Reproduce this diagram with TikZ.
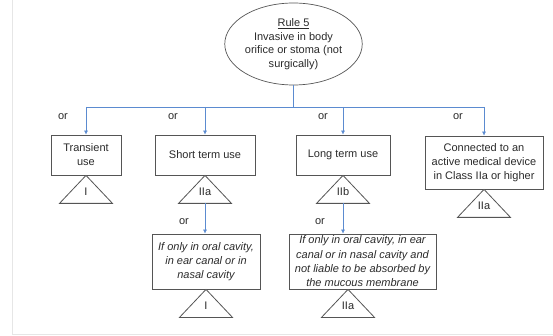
\documentclass[tikz,border=0pt]{standalone}
\usepackage{fontspec}
\setmainfont{Liberation Sans}
\usetikzlibrary{shapes.geometric,arrows.meta,calc}
\definecolor{linkblue}{HTML}{5B8BD0}
\definecolor{boxgray}{HTML}{555555}
\definecolor{txtgray}{HTML}{2A2A2A}
\definecolor{framegray}{HTML}{E6E6E6}
\tikzset{
  every node/.style={text=txtgray, font=\fontsize{11}{13.5}\selectfont},
  rulebox/.style={draw=boxgray, line width=0.7pt, ellipse, minimum width=103pt,
    minimum height=82pt, inner sep=0pt, align=center},
  usebox/.style={draw=boxgray, line width=0.8pt, rectangle, inner sep=0pt, align=center,
    font=\fontsize{11}{14}\selectfont},
  condbox/.style={usebox, font=\fontsize{11}{14.3}\selectfont\itshape},
  link/.style={draw=linkblue, line width=0.6pt},
  linkarrow/.style={link, -{Latex[length=4pt,width=4pt]}},
  classtri/.style={draw=boxgray, line width=0.8pt, fill=white},
  classlabel/.style={inner sep=0pt},
  orlabel/.style={inner sep=0pt},
}
\begin{document}
\begin{tikzpicture}[x=1pt, y=-1pt]
  \useasboundingbox (0,0) rectangle (553,336);
  % thin page frame on the left and bottom
  \draw[framegray, line width=0.8pt] (12.5,0) -- (12.5,334.5) -- (553,334.5);

  % the rule
  \node[rulebox] (rule) at (293.5,44) {\underline{Rule 5}\\Invasive in body\\orifice or stoma (not\\surgically)};

  % duration / connection boxes
  \node[usebox, minimum width=70pt, minimum height=40pt] (trans) at (86,155) {Transient\\use};
  \node[usebox, minimum width=100pt, minimum height=40pt] (short) at (205,155) {Short term use};
  \node[usebox, minimum width=94pt, minimum height=40pt] (long) at (343,155) {Long term use};
  \node[usebox, minimum width=118pt, minimum height=53pt] (active) at (484,162.5) {Connected to an\\active medical device\\in Class IIa or higher};

  % special-case boxes
  \node[condbox, minimum width=108pt, minimum height=55pt] (shortcav) at (206,261.5) {If only in oral cavity,\\in ear canal or in\\nasal cavity};
  \node[condbox, minimum width=147pt, minimum height=55pt] (longcav) at (362.5,261.5) {If only in oral cavity, in ear\\canal or in nasal cavity and\\not liable to be absorbed by\\the mucous membrane};

  % class triangles hanging under the boxes
  \coordinate (ctrans) at (trans.south);
  \coordinate (cshort) at (short.south);
  \coordinate (clong) at (long.south);
  \coordinate (cactive) at (active.south);
  \coordinate (cshortcav) at (shortcav.south);
  \coordinate (clongcav) at ($(longcav.south)+(-14.5,0)$);
  \foreach \c in {ctrans,cshort,clong,cactive,cshortcav,clongcav}{
    \draw[classtri] (\c) -- ++(-26.5,28) -- ++(53,0) -- cycle;
  }
  \node[classlabel] (ktrans) at ($(ctrans)+(0,16)$) {I};
  \node[classlabel] (kshort) at ($(cshort)+(0,16)$) {IIa};
  \node[classlabel] (klong) at ($(clong)+(0,16)$) {IIb};
  \node[classlabel] (kactive) at ($(cactive)+(0,16)$) {IIa};
  \node[classlabel] (kshortcav) at ($(cshortcav)+(0,16)$) {I};
  \node[classlabel] (klongcav) at ($(clongcav)+(0,16)$) {IIa};
  \coordinate (bshort) at ($(cshort)+(0,28)$);
  \coordinate (blong) at ($(clong)+(0,28)$);

  % branching lines
  \coordinate (bus) at (rule.south |- 0,107);
  \draw[link] (rule.south) -- (bus);
  \draw[link] (trans.north |- bus) -- (active.north |- bus);
  \draw[linkarrow] (trans.north |- bus) -- (trans.north);
  \draw[linkarrow] (short.north |- bus) -- (short.north);
  \draw[linkarrow] (long.north |- bus) -- (long.north);
  \draw[linkarrow] (active.north |- bus) -- (active.north);
  \draw[linkarrow] (bshort) -- (bshort |- shortcav.north);
  \draw[linkarrow] (blong) -- (blong |- longcav.north);

  % "or" labels
  \node[orlabel] (or1) at (63,117) {or};
  \node[orlabel] (or2) at (173,117) {or};
  \node[orlabel] (or3) at (323,117) {or};
  \node[orlabel] (or4) at (458,117) {or};
  \node[orlabel] (or5) at (184,222) {or};
  \node[orlabel] (or6) at (320,222) {or};
\end{tikzpicture}
\end{document}
